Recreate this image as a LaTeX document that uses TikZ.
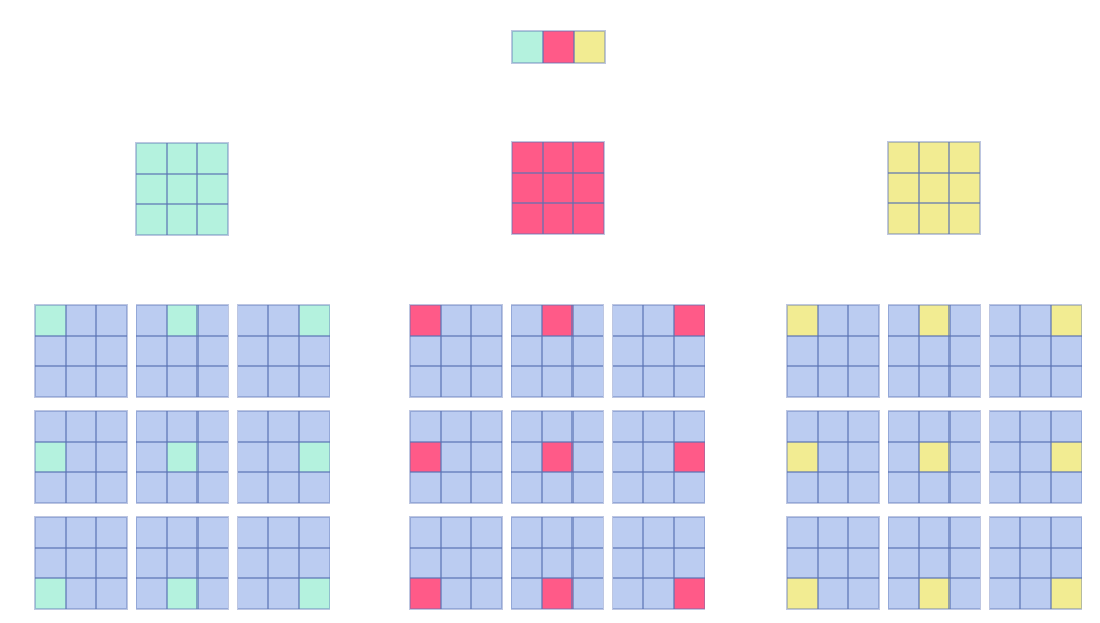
\documentclass[tikz,border=0pt]{standalone}
\usetikzlibrary{calc}
\definecolor{cellblue}{HTML}{BBCCF1}
\definecolor{cellteal}{HTML}{B4F2DE}
\definecolor{cellpink}{HTML}{FF5A88}
\definecolor{cellyellow}{HTML}{F2EC92}
\definecolor{gridline}{HTML}{5A72B4}

% 3x3 grid: top-left x, y, base colour, mark colour, mark column, mark row
\newcommand{\cellgrid}[6]{%
  \fill[#3] (#1,#2) rectangle ++(92,92);
  \fill[#4] ($(#1,#2)+(#5*30.667,#6*30.667)$) rectangle ++(30.667,30.667);
  \foreach \k in {1,2} {
    \draw[inner] ($(#1,#2)+(\k*30.667,0)$) -- ++(0,92);
    \draw[inner] ($(#1,#2)+(0,\k*30.667)$) -- ++(92,0);
  }
  \draw[outer] (#1,#2) rectangle ++(92,92);
}

\begin{document}
\begin{tikzpicture}[x=1pt,y=-1pt,
  inner/.style={gridline,line width=2.3pt,opacity=0.6},
  outer/.style={gridline,line width=1.5pt,opacity=0.4}]
  \fill[white] (0,0) rectangle (1100,622);
  \useasboundingbox (0,0) rectangle (1100,622);

  % colour strip
  \fill[cellteal] (512,31) rectangle ++(31,32);
  \fill[cellpink] (543,31) rectangle ++(31,32);
  \fill[cellyellow] (574,31) rectangle ++(31,32);
  \draw[inner] (543,31) -- ++(0,32);
  \draw[inner] (574,31) -- ++(0,32);
  \draw[outer] (512,31) rectangle ++(93,32);

  % kernels
  \cellgrid{136}{143}{cellteal}{cellteal}{0}{0}
  \cellgrid{512}{142}{cellpink}{cellpink}{0}{0}
  \cellgrid{888}{142}{cellyellow}{cellyellow}{0}{0}

  % channel grids
  \foreach \gx/\mk in {35/cellteal, 410/cellpink, 787/cellyellow} {
    \foreach \c in {0,1,2} {
      \foreach \r in {0,1,2} {
        \cellgrid{\gx+\c*101.3}{305+\r*106}{cellblue}{\mk}{\c}{\r}
      }
    }
  }
\end{tikzpicture}
\end{document}
